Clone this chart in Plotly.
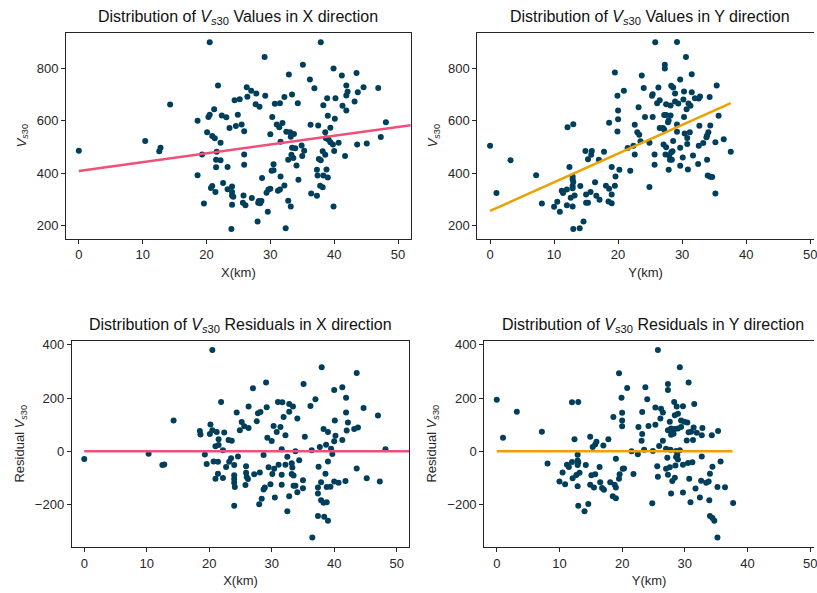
import plotly.graph_objects as go

# ---------------- data ----------------
# Top-left: Vs30 vs X
tl_x = [0.0,10.4,12.6,12.8,14.3,20.5,29.1,32.9,21.8,26.3,
        27.0,27.8,24.4,25.2,26.4,29.2,33.4,32.2,27.7,28.3,
        30.7,31.5,34.3,21.2,20.5,20.3,22.4,23.1,24.9,18.6,
        23.6,24.6,25.5,25.9,30.3,31.0,31.4,31.9,30.0,32.5,
        33.1,33.7,33.2,20.1,20.9,21.3,22.2,31.6,33.4,33.9,
        19.3,21.6,25.9,33.3,33.6,21.5,22.2,21.5,23.3,25.9,
        32.8,34.1,30.5,30.2,30.5,31.6,18.6,28.7,22.6,20.9,
        20.7,21.4,23.3,24.0,24.0,24.0,24.2,25.8,27.1,28.2,
        28.6,28.4,28.1,29.4,29.7,30.0,31.2,31.5,32.2,25.7,
        26.1,24.0,19.6,29.6,32.8,33.2,28.0,23.9,32.4,37.9,
        35.1,39.9,43.5,41.2,36.2,36.9,41.9,44.6,46.9,42.1,
        41.9,43.7,38.9,40.2,38.3,41.3,41.9,43.2,39.0,40.1,
        36.3,37.5,39.4,38.6,48.1,47.3,38.7,39.1,39.4,39.8,
        40.7,43.6,45.1,34.9,35.3,40.0,38.2,38.6,35.0,41.7,
        37.6,37.9,34.4,37.3,38.8,37.4,38.3,39.0,37.8,38.2,
        36.4,37.3,39.9]
tl_v = [486,523,484,497,662,899,843,776,734,728,
        714,704,678,682,691,695,700,690,663,653,
        665,667,667,644,623,614,620,613,623,600,
        572,580,586,560,614,586,575,591,548,558,
        556,549,539,556,542,533,516,520,497,495,
        471,482,471,470,458,451,449,423,424,432,
        451,429,434,409,411,387,392,382,363,351,
        344,328,339,349,328,315,310,315,305,294,
        294,285,287,325,338,341,333,338,353,287,
        278,280,284,253,295,273,216,187,190,899,
        813,799,782,772,757,724,734,728,725,710,
        696,709,686,686,659,657,639,673,619,608,
        585,582,573,556,594,538,533,528,518,509,
        516,509,513,506,486,485,484,470,466,466,
        454,449,375,413,414,391,391,384,352,346,
        323,314,273]

# Top-right: Vs30 vs Y
tr_y = [0.0,1.0,3.2,19.5,20.9,19.9,20.0,20.0,19.9,18.6,
        13.0,12.1,22.6,23.0,23.2,21.5,22.4,22.6,14.9,15.9,
        15.8,15.3,17.8,17.0,7.2,12.4,19.0,20.2,21.9,19.6,
        12.9,12.9,13.0,14.1,12.9,12.9,12.0,11.2,11.4,12.6,
        13.2,16.4,15.7,15.0,18.1,18.6,19.5,19.0,16.6,17.1,
        15.0,15.3,18.5,19.0,12.0,12.9,8.1,10.0,10.5,10.9,
        14.6,13.0,14.0,25.8,29.2,30.6,27.3,27.3,23.7,29.7,
        31.5,24.0,26.3,28.3,28.6,35.4,25.4,25.3,28.9,30.3,
        31.5,32.8,32.6,32.0,34.3,26.5,26.1,27.5,28.2,28.9,
        29.4,30.2,31.0,31.3,30.7,24.2,25.4,27.2,27.5,28.2,
        30.3,27.9,27.8,29.2,35.7,26.5,27.0,27.2,23.3,29.2,
        30.4,30.8,31.2,32.7,34.4,34.1,33.9,33.8,23.5,24.9,
        28.6,27.1,27.5,29.7,30.8,28.5,28.3,32.6,33.3,35.2,
        36.5,25.7,25.7,27.4,28.0,28.1,28.4,30.1,31.7,29.7,
        30.9,27.9,32.5,33.9,24.9,34.0,34.4,34.7,37.6,35.2]
tr_v = [505,324,449,784,714,695,639,606,559,592,
        587,575,585,556,651,496,505,471,485,485,
        470,453,482,451,392,424,424,413,409,387,
        387,377,366,351,351,343,338,333,324,306,
        315,365,328,319,352,341,352,319,314,299,
        287,287,292,285,278,273,284,272,291,253,
        216,187,190,899,900,843,813,799,772,757,
        777,725,727,733,727,734,701,695,704,711,
        709,692,685,686,690,678,667,663,658,673,
        666,681,666,657,644,614,614,622,622,620,
        614,601,594,586,619,572,572,567,547,558,
        551,534,556,581,582,556,544,537,522,516,
        523,509,499,497,511,484,480,505,515,518,
        529,471,432,471,467,451,451,460,467,428,
        414,413,435,451,347,391,386,385,482,323]

# Bottom-left: residual vs X
bl_x = [0.0,10.3,12.5,12.8,14.3,
        20.5,29.1,27.0,21.9,31.0,31.7,32.8,33.4,26.3,29.2,
        24.4,27.8,28.2,31.9,32.8,34.1,27.6,25.2,20.2,25.6,
        26.3,24.9,30.3,31.4,30.8,32.2,18.5,18.6,20.1,20.5,
        21.2,22.4,21.5,23.1,23.6,29.3,30.0,21.0,21.5,22.2,
        31.6,33.8,19.3,28.7,32.5,23.5,23.2,24.6,20.7,21.4,
        19.6,24.0,22.7,25.9,31.1,32.2,33.2,29.5,30.4,33.3,
        28.1,27.2,21.4,21.0,22.2,24.0,24.0,24.0,24.1,25.9,
        26.0,26.2,25.8,30.1,31.6,33.2,33.5,29.8,28.9,28.7,
        31.6,33.5,33.8,34.1,28.4,30.5,32.8,28.0,24.0,32.5,
        38.0,43.6,35.1,41.3,40.0,41.9,37.0,36.2,44.7,41.9,
        47.0,40.1,42.2,38.3,39.0,43.2,43.8,42.0,35.3,40.2,
        40.0,41.3,38.7,37.7,39.5,39.7,36.4,48.2,34.4,39.0,
        37.5,43.6,38.6,35.0,35.0,37.9,37.4,37.4,38.8,39.4,
        40.0,40.7,41.8,45.2,47.3,37.9,38.3,38.8,37.4,38.4,
        39.0,36.5]
bl_r = [-29,-9,-51,-49,116,
        381,259,237,185,185,184,178,168,168,166,
        146,143,148,129,149,123,113,110,101,94,
        88,79,95,91,73,60,76,63,65,79,
        73,71,45,43,40,51,39,19,24,4,
        8,0,-12,-14,-20,-26,-39,-19,-38,-39,
        -48,-51,-59,-56,-50,-50,-45,-60,-65,-61,
        -79,-86,-84,-103,-100,-90,-104,-118,-134,-80,
        -96,-104,-126,-85,-88,-85,-91,-124,-136,-143,
        -125,-129,-129,-154,-178,-173,-169,-199,-204,-225,
        316,294,253,241,230,201,196,170,163,146,
        135,116,108,84,73,84,90,78,55,59,
        38,43,25,16,10,-10,4,8,-33,-38,
        -58,-64,-84,-109,-139,-116,-136,-158,-134,-133,
        -113,-118,-111,-101,-113,-184,-193,-191,-243,-246,
        -261,-324]

# Bottom-right: residual vs Y
br_y = [0.0,1.0,3.2,
        7.2,8.1,12.0,13.0,12.4,10.0,10.9,10.5,11.2,11.5,
        12.0,12.9,12.9,12.9,13.0,14.2,13.2,12.7,12.1,12.9,
        14.9,15.9,15.7,15.3,17.0,17.8,16.4,15.1,15.7,14.9,
        15.5,16.5,16.8,17.1,13.0,14.6,14.0,18.1,18.8,19.0,
        18.5,19.0,19.6,19.5,20.1,20.3,19.0,18.6,19.5,20.8,
        19.9,20.0,20.0,20.0,
        25.7,29.2,30.6,27.3,27.3,23.7,24.0,28.3,28.7,29.7,
        31.5,25.3,26.2,26.5,23.2,28.4,28.9,26.1,27.6,29.4,
        29.9,30.4,22.6,24.2,25.3,27.3,27.8,28.0,28.4,28.9,
        29.4,28.2,27.8,30.6,31.0,31.9,31.4,32.8,35.3,23.2,
        23.1,26.5,30.3,31.3,32.7,34.3,25.9,21.5,22.5,23.5,
        24.9,27.0,27.7,28.6,29.2,27.2,28.6,28.9,28.8,32.7,
        35.7,25.6,27.0,27.6,28.5,29.7,30.5,31.2,34.4,21.8,
        25.7,27.3,28.4,28.0,30.7,32.6,33.4,33.8,34.0,31.7,
        27.8,29.7,32.4,35.2,36.4,30.9,33.9,37.7,24.8,34.0,
        34.4,34.7,35.2]
br_r = [194,51,149,
        74,-46,184,185,45,-113,-124,-79,-50,-59,
        -40,-13,-34,-51,-41,-51,-80,-89,-101,-131,
        55,36,26,16,22,45,-59,-90,-86,-125,
        -136,-116,-138,-144,-204,-198,-225,-116,-125,-136,
        -169,-176,-86,-103,-65,-64,-28,129,293,238,
        201,145,116,94,
        381,316,259,253,230,241,196,185,168,169,
        178,165,160,146,148,136,141,123,111,116,
        111,108,91,95,100,79,86,76,84,86,
        91,66,62,72,74,70,90,88,76,65,
        40,40,41,43,60,60,20,0,-11,6,
        1,10,6,1,4,-24,-21,-31,-14,-19,
        -38,-56,-65,-60,-53,-50,-44,-41,-58,-85,
        -95,-88,-99,-111,-103,-110,-118,-113,-84,-140,
        -158,-155,-173,-134,-135,-191,-184,-194,-195,-243,
        -250,-261,-324]

# fitted / reference lines (end points)
fitx_x = [0, 52]
fitx_v = [408, 583]
fity_y = [0, 37.6]
fity_v = [256, 667]
resx_x = [0, 52]
resx_r = [0, 0]
resy_y = [0, 37.6]
resy_r = [0, 0]

x_ticks = [0, 10, 20, 30, 40, 50]
v_ticks = [200, 400, 600, 800]
r_ticks = [-200, 0, 200, 400]

# ---------------- styling ----------------
DOT = "#003f5c"
PINK = "#ef4f78"
ORANGE = "#eba200"
INK = "#262626"
FONT = "Liberation Sans, Arial, sans-serif"
W, H = 817, 593

VS = "<i>V</i><sub><i>s</i>30</sub>"

fig = go.Figure()

def scatter(x, y, xa, ya):
    fig.add_trace(go.Scatter(x=x, y=y, mode="markers", xaxis=xa, yaxis=ya,
                             marker=dict(color=DOT, size=6, line=dict(width=0)),
                             showlegend=False, hoverinfo="skip"))

def line(x, y, xa, ya, color):
    fig.add_trace(go.Scatter(x=x, y=y, mode="lines", xaxis=xa, yaxis=ya,
                             line=dict(color=color, width=2.5),
                             showlegend=False, hoverinfo="skip"))

scatter(tl_x, tl_v, "x", "y")
line(fitx_x, fitx_v, "x", "y", PINK)
scatter(tr_y, tr_v, "x2", "y2")
line(fity_y, fity_v, "x2", "y2", ORANGE)
scatter(bl_x, bl_r, "x3", "y3")
line(resx_x, resx_r, "x3", "y3", PINK)
scatter(br_y, br_r, "x4", "y4")
line(resy_y, resy_r, "x4", "y4", ORANGE)

def px_x(a, b):
    return [a / W, min(b / W, 1.0)]

def px_y(top, bottom):
    return [1 - bottom / H, 1 - top / H]

common = dict(showline=True, linecolor=INK, linewidth=1, ticks="outside",
              ticklen=4, tickwidth=1, tickcolor=INK, showgrid=False,
              zeroline=False, ticklabeloverflow="allow",
              tickfont=dict(family=FONT, size=13, color=INK))

def xaxis(dom, rng, anchor, title, mirror=True):
    d = dict(common)
    d.update(domain=dom, range=rng, anchor=anchor, tickvals=x_ticks, mirror=mirror,
             title=dict(text=title, standoff=6, font=dict(family=FONT, size=13, color=INK)))
    return d

def yaxis(dom, rng, anchor, ticks, title, mirror=True):
    d = dict(common)
    d.update(domain=dom, range=rng, anchor=anchor, tickvals=ticks, mirror=mirror,
             title=dict(text=title, standoff=7, font=dict(family=FONT, size=13, color=INK)))
    return d

top_y = px_y(30, 236.7)
bot_y = px_y(339.3, 546.7)

fig.update_layout(
    width=W, height=H,
    margin=dict(l=0, r=0, t=0, b=0),
    paper_bgcolor="white", plot_bgcolor="white",
    font=dict(family=FONT, color=INK),
    xaxis=xaxis(px_x(66.3, 412.3), [-2, 52], "y", "X(km)"),
    yaxis=yaxis(top_y, [151, 935], "x", v_ticks, VS),
    xaxis2=xaxis(px_x(479, 817), [-2, 50.6], "y2", "Y(km)"),
    yaxis2=yaxis(top_y, [151, 935], "x2", v_ticks, VS, mirror=False),
    xaxis3=xaxis(px_x(72, 410.7), [-2, 52], "y3", "X(km)"),
    yaxis3=yaxis(bot_y, [-359, 416], "x3", r_ticks, "Residual " + VS),
    xaxis4=xaxis(px_x(486, 817), [-2, 50.6], "y4", "Y(km)"),
    yaxis4=yaxis(bot_y, [-359, 416], "x4", r_ticks, "Residual " + VS, mirror=False),
)

titles = [
    ("Distribution of " + VS + " Values in X direction", 239.3, top_y[1]),
    ("Distribution of " + VS + " Values in Y direction", 652.5, top_y[1]),
    ("Distribution of " + VS + " Residuals in X direction", 241.3, bot_y[1]),
    ("Distribution of " + VS + " Residuals in Y direction", 655.5, bot_y[1]),
]
for text, cx, ytop in titles:
    fig.add_annotation(text=text, x=cx / W, y=ytop, xref="paper", yref="paper",
                       xanchor="center", yanchor="bottom", yshift=4, showarrow=False,
                       font=dict(family=FONT, size=16, color="#111111"))

fig.write_html("out.html")
